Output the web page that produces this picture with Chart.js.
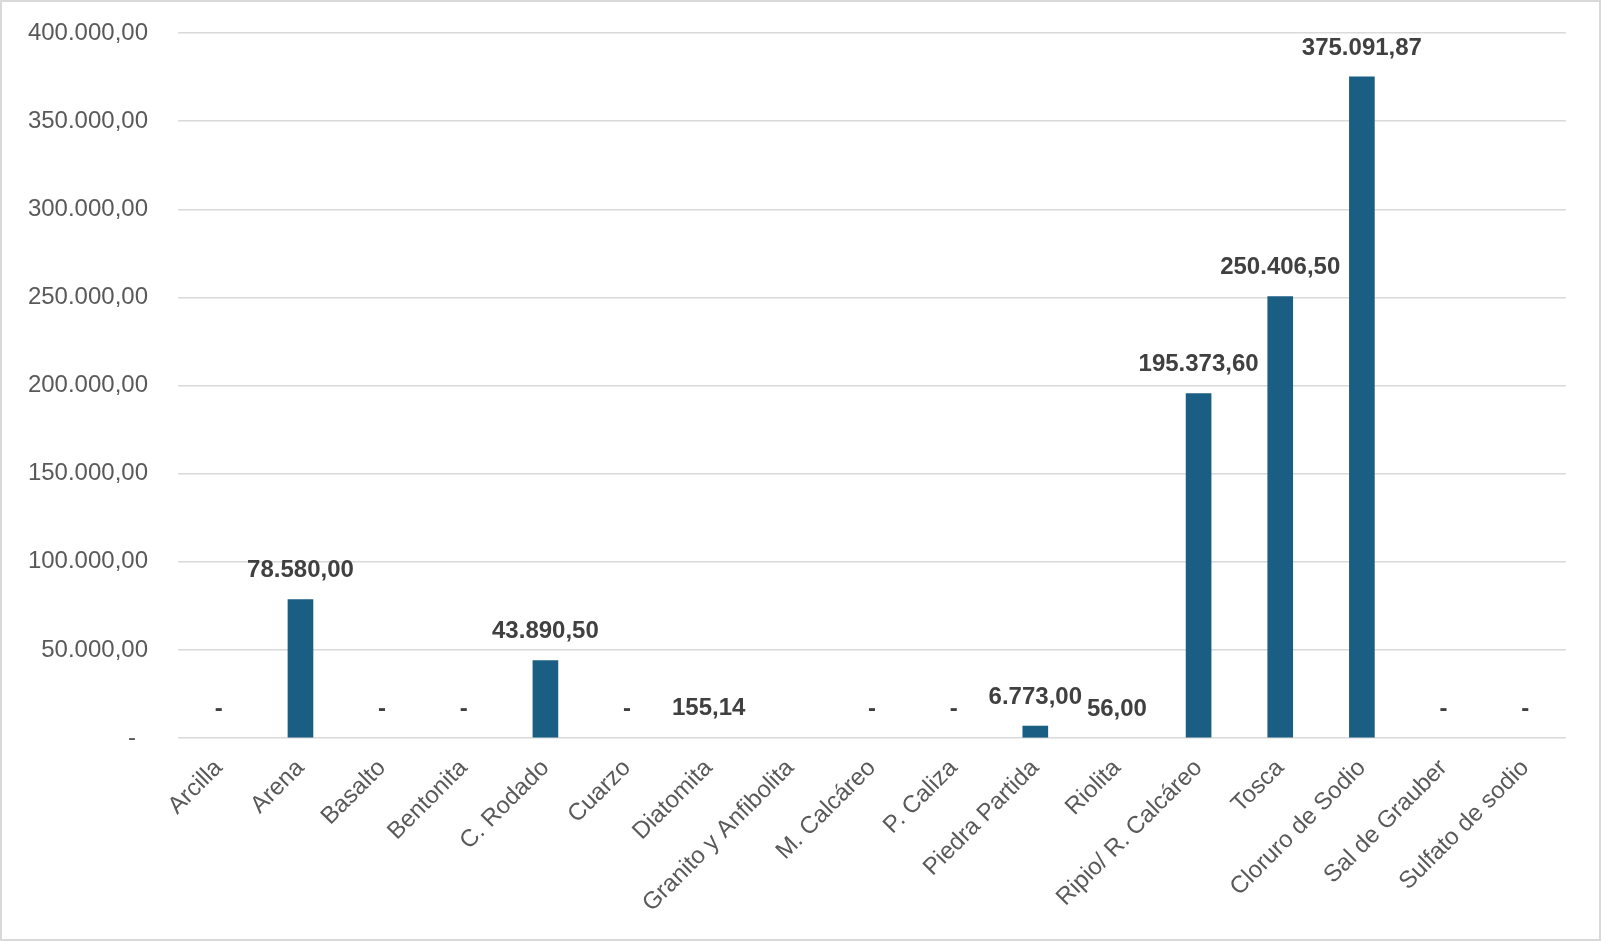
<!DOCTYPE html>
<html>
<head>
<meta charset="utf-8">
<script src="https://cdn.jsdelivr.net/npm/chart.js@4.4.1/dist/chart.umd.min.js"></script>
<style>
  html, body { margin: 0; padding: 0; background: #ffffff; }
  #wrap { width: 1601px; height: 941px; position: relative; }
</style>
</head>
<body>
<div id="wrap"><canvas id="c" width="1601" height="941"></canvas></div>
<script>
const categories = ['Arcilla', 'Arena', 'Basalto', 'Bentonita', 'C. Rodado', 'Cuarzo', 'Diatomita',
  'Granito y Anfibolita', 'M. Calcáreo', 'P. Caliza', 'Piedra Partida', 'Riolita',
  'Ripio/ R. Calcáreo', 'Tosca', 'Cloruro de Sodio', 'Sal de Grauber', 'Sulfato de sodio'];
const values = [0, 78580.00, 0, 0, 43890.50, 0, 155.14, null, 0, 0, 6773.00, 56.00,
  195373.60, 250406.50, 375091.87, 0, 0];
const yMin = 0;
const yMax = 400000;
const yStep = 50000;

const FONT = "'Liberation Sans', Arial, sans-serif";
const BAR = '#1b5e83';

function fmt(v) {
  const parts = v.toFixed(2).split('.');
  const intPart = parts[0].replace(/\B(?=(\d{3})+(?!\d))/g, '.');
  return intPart + ',' + parts[1];
}

const dataLabels = {
  id: 'dataLabels',
  afterDatasetsDraw(chart) {
    const ctx = chart.ctx;
    const meta = chart.getDatasetMeta(0);
    ctx.save();
    ctx.font = 'bold 24px ' + FONT;
    ctx.fillStyle = '#404040';
    ctx.textAlign = 'center';
    ctx.textBaseline = 'middle';
    meta.data.forEach((bar, i) => {
      const v = values[i];
      if (v === null || v === undefined) return;
      const txt = v === 0 ? '-' : fmt(v);
      const y = chart.scales.y.getPixelForValue(v);
      ctx.fillText(txt, bar.x, y - 29);
    });
    ctx.restore();
  }
};

const frame = {
  id: 'frame',
  afterDraw(chart) {
    const ctx = chart.ctx;
    ctx.save();
    ctx.strokeStyle = '#d9d9d9';
    ctx.lineWidth = 2;
    ctx.strokeRect(1, 1, chart.width - 2, chart.height - 2);
    ctx.restore();
  }
};

new Chart(document.getElementById('c'), {
  type: 'bar',
  data: {
    labels: categories,
    datasets: [{
      data: values,
      backgroundColor: (c) => {
        const v = values[c.dataIndex];
        // bars thinner than one pixel are not visible in the reference
        return (v === null || v < 300) ? 'rgba(0,0,0,0)' : BAR;
      },
      barThickness: 25
    }]
  },
  options: {
    responsive: false,
    animation: false,
    events: [],
    layout: { padding: { top: 33, right: 35, bottom: 0, left: 0 } },
    plugins: { legend: { display: false }, tooltip: { enabled: false }, title: { display: false } },
    scales: {
      y: {
        min: yMin, max: yMax,
        ticks: {
          stepSize: yStep,
          padding: 30,
          color: '#595959',
          font: { size: 24, family: FONT },
          callback: (v) => v === 0 ? '-\u2002' : fmt(v)
        },
        grid: { color: '#d9d9d9', lineWidth: 1.5, drawTicks: false },
        border: { display: false },
        afterFit: (s) => { s.width = 178; s.paddingTop = 0; s.paddingBottom = 0; }
      },
      x: {
        grid: { display: false, drawTicks: false },
        border: { display: false },
        ticks: {
          autoSkip: false,
          minRotation: 45, maxRotation: 45,
          padding: 16,
          color: '#595959',
          font: { size: 24, family: FONT }
        },
        afterFit: (s) => { s.height = 203; }
      }
    }
  },
  plugins: [dataLabels, frame]
});
</script>
</body>
</html>
